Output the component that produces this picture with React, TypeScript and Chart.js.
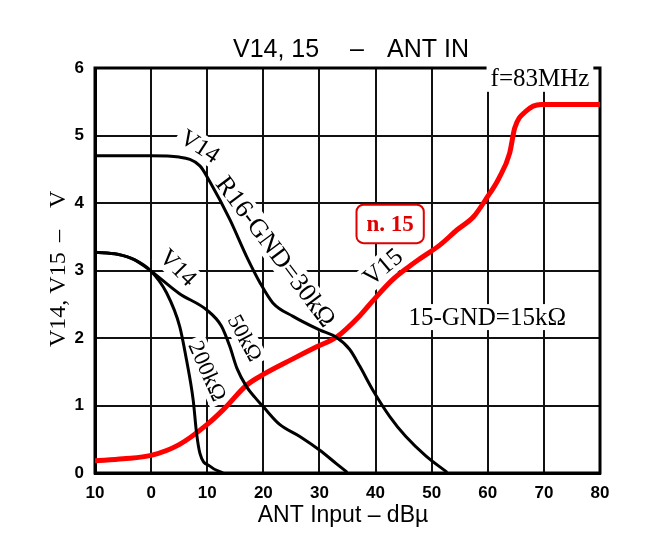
import React, { useEffect, useRef } from "react";
import { Chart, registerables } from "chart.js";

Chart.register(...registerables);

// ---- axis ticks ----
const xTickValues = [-10, 0, 10, 20, 30, 40, 50, 60, 70, 80];
const xTickLabels = ["10", "0", "10", "20", "30", "40", "50", "60", "70", "80"];
const yTickValues = [0, 1, 2, 3, 4, 5, 6];

// ---- V14, R16-GND = 30kΩ ----
const v14_30k_x = [-10, 0, 5, 8.7, 10.5, 14, 17, 19.4, 21.7, 25.3, 30, 33, 35.4, 37.2, 39.5, 42.5, 45.4, 49, 52.6];
const v14_30k_y = [4.7, 4.7, 4.68, 4.55, 4.31, 3.76, 3.21, 2.82, 2.52, 2.32, 2.12, 2.01, 1.83, 1.58, 1.23, 0.84, 0.54, 0.25, 0.02];

// ---- V14, 50kΩ ----
const v14_50k_x = [-10, -6, -3, 0, 5, 10, 12.5, 14, 15.3, 17, 18.5, 20, 22.9, 26.5, 30, 33, 34.8];
const v14_50k_y = [3.27, 3.24, 3.16, 2.99, 2.66, 2.41, 2.18, 1.88, 1.55, 1.28, 1.12, 0.98, 0.72, 0.54, 0.34, 0.14, 0.02];

// ---- V14, 200kΩ ----
const v14_200k_x = [-10, -6, -3, 0, 2.75, 5.1, 6.3, 7.5, 8.1, 8.7, 10.5, 12.8];
const v14_200k_y = [3.27, 3.24, 3.16, 2.99, 2.67, 2.17, 1.68, 1.08, 0.59, 0.29, 0.1, 0];

// ---- V15, 15-GND = 15kΩ ----
const v15_x = [-10, -5, 0, 5, 10, 13, 17, 20, 25, 29.5, 33, 37.2, 39.5, 43, 46, 48, 51.5, 54.5, 57.5, 59.7, 62, 63.9, 64.8, 66.8, 69.5, 80];
const v15_y = [0.18, 0.21, 0.26, 0.42, 0.72, 0.95, 1.3, 1.46, 1.68, 1.87, 2.01, 2.33, 2.55, 2.86, 3.06, 3.18, 3.38, 3.6, 3.8, 4.06, 4.37, 4.74, 5.11, 5.36, 5.46, 5.46];

// ---- in-plot labels ----
const SERIF = '"Liberation Serif", "DejaVu Serif", serif';
const SANS = '"Liberation Sans", Arial, sans-serif';

type Lbl = { text: string; x: number; y: number; angle: number; size: number; color?: string; bold?: boolean; box?: boolean };
const plotLabels: Lbl[] = [
  { text: "V14", x: 8.7, y: 4.84, angle: 33, size: 24 },
  { text: "R16-GND=30kΩ", x: 22.2, y: 3.28, angle: 53, size: 26 },
  { text: "V14", x: 4.8, y: 3.04, angle: 45, size: 24 },
  { text: "50kΩ", x: 16.7, y: 2.0, angle: 62, size: 22 },
  { text: "200kΩ", x: 10.0, y: 1.51, angle: 66, size: 23 },
  { text: "V15", x: 41.3, y: 3.05, angle: -40, size: 25 },
  { text: "15-GND=15kΩ", x: 59.9, y: 2.31, angle: 0, size: 25 },
  { text: "f=83MHz", x: 69.3, y: 5.84, angle: 0, size: 25 },
  { text: "n. 15", x: 42.6, y: 3.69, angle: 0, size: 23, color: "#e00000", bold: true, box: true },
];

const zip = (xs: number[], ys: number[]) => xs.map((x, i) => ({ x, y: ys[i] }));

const decorPlugin = {
  id: "decor",
  beforeDatasetsDraw(chart: any) {
    const { ctx, chartArea, scales } = chart;
    const xs = scales.x;
    const ys = scales.y;
    ctx.save();
    ctx.strokeStyle = "#000";
    ctx.lineWidth = 3;
    ctx.strokeRect(chartArea.left, chartArea.top, chartArea.right - chartArea.left, chartArea.bottom - chartArea.top);
    for (const l of plotLabels) {
      const px = xs.getPixelForValue(l.x);
      const py = ys.getPixelForValue(l.y);
      ctx.save();
      ctx.translate(px, py);
      ctx.rotate((l.angle * Math.PI) / 180);
      ctx.font = `${l.bold ? "bold " : ""}${l.size}px ${SERIF}`;
      const w = ctx.measureText(l.text).width;
      const h = l.size * 0.8;
      if (l.box) {
        const bw = w + 20, bh = h + 20;
        ctx.fillStyle = "#fff";
        ctx.strokeStyle = l.color || "#000";
        ctx.lineWidth = 2;
        ctx.beginPath();
        (ctx as any).roundRect(-bw / 2, -bh / 2, bw, bh, 7);
        ctx.fill();
        ctx.stroke();
      } else {
        ctx.fillStyle = "#fff";
        ctx.fillRect(-w / 2 - 4, -h / 2 - 3, w + 8, h + 6);
      }
      ctx.fillStyle = l.color || "#000";
      ctx.textAlign = "center";
      ctx.textBaseline = "middle";
      ctx.fillText(l.text, 0, 1);
      ctx.restore();
    }
    ctx.restore();
  },
  afterDraw(chart: any) {
    const { ctx } = chart;
    ctx.save();
    ctx.fillStyle = "#000";
    ctx.font = `25px ${SANS}`;
    ctx.textBaseline = "alphabetic";
    ctx.textAlign = "left";
    ctx.fillText("V14, 15", 233, 57);
    ctx.fillText("–", 350, 57);
    ctx.fillText("ANT IN", 387, 57);
    ctx.font = `23px ${SANS}`;
    ctx.textAlign = "center";
    ctx.fillText("ANT Input – dBµ", 343, 522);
    ctx.translate(65, 347);
    ctx.rotate(-Math.PI / 2);
    ctx.font = `24px ${SERIF}`;
    ctx.textAlign = "left";
    ctx.fillText("V14, V15", 0, 0);
    ctx.fillText("–", 105, 0);
    ctx.fillText("V", 139, 0);
    ctx.restore();
  },
};

export default function App() {
  const ref = useRef<HTMLCanvasElement | null>(null);
  useEffect(() => {
    if (!ref.current) return;
    const line = (data: { x: number; y: number }[], color: string, width: number) => ({
      data,
      showLine: true,
      borderColor: color,
      backgroundColor: color,
      borderWidth: width,
      pointRadius: 0,
      cubicInterpolationMode: "monotone" as const,
      borderCapStyle: "round" as const,
      borderJoinStyle: "round" as const,
    });
    const chart = new Chart(ref.current, {
      type: "scatter",
      data: {
        datasets: [
          { label: "V14 R16-GND=30kΩ", ...line(zip(v14_30k_x, v14_30k_y), "#000", 3) },
          { label: "V14 50kΩ", ...line(zip(v14_50k_x, v14_50k_y), "#000", 3) },
          { label: "V14 200kΩ", ...line(zip(v14_200k_x, v14_200k_y), "#000", 3) },
          { label: "V15 15-GND=15kΩ", ...line(zip(v15_x, v15_y), "#ff0000", 5) },
        ],
      },
      options: {
        animation: false,
        responsive: false,
        layout: { padding: { top: 68, right: 46, bottom: 0, left: 0 } },
        plugins: { legend: { display: false }, tooltip: { enabled: false }, title: { display: false } },
        scales: {
          x: {
            type: "linear",
            min: -10,
            max: 80,
            afterFit: (s: any) => { s.height = 83; },
            afterBuildTicks: (s: any) => { s.ticks = xTickValues.map((v) => ({ value: v })); },
            ticks: {
              padding: 10,
              color: "#000",
              font: { family: SANS, size: 17, weight: "bold" },
              callback: (v: any) => { const i = xTickValues.indexOf(Number(v)); return i >= 0 ? xTickLabels[i] : String(v); },
              maxRotation: 0,
            },
            grid: { color: "#111", lineWidth: 2, drawTicks: false },
            border: { color: "#000", width: 3 },
          },
          y: {
            type: "linear",
            min: 0,
            max: 6,
            afterFit: (s: any) => { s.width = 95; },
            afterBuildTicks: (s: any) => { s.ticks = yTickValues.map((v) => ({ value: v })); },
            ticks: {
              padding: 11,
              color: "#000",
              font: { family: SANS, size: 17, weight: "bold" },
            },
            grid: { color: "#111", lineWidth: 2, drawTicks: false },
            border: { color: "#000", width: 3 },
          },
        },
      },
      plugins: [decorPlugin],
    });
    return () => chart.destroy();
  }, []);
  return (
    <div style={{ position: "fixed", left: 0, top: 0, width: 646, height: 556, background: "#fff" }}>
      <canvas ref={ref} width={646} height={556} style={{ display: "block" }} />
    </div>
  );
}
